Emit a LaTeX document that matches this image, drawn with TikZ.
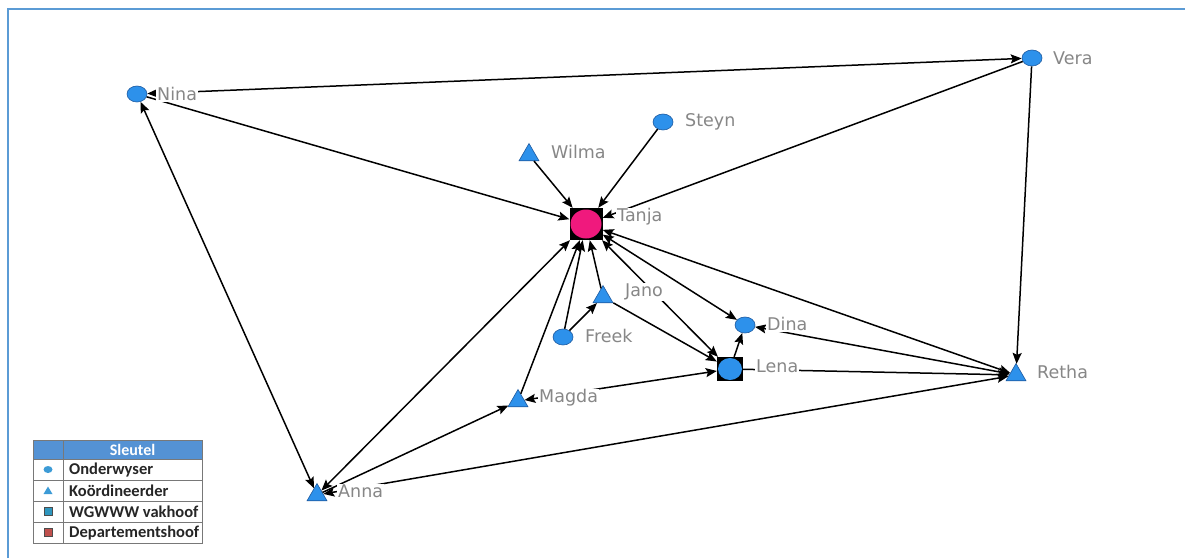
\documentclass[tikz,border=0pt]{standalone}
\usepackage{fontspec}
\setmainfont{DejaVu Sans}
\newfontfamily\legfont{Carlito}
\usetikzlibrary{shapes.geometric,arrows.meta}
\definecolor{nblue}{RGB}{45,145,235}
\definecolor{nborder}{RGB}{30,90,160}
\definecolor{tpink}{RGB}{240,25,125}
\definecolor{lblgrey}{RGB}{135,135,135}
\definecolor{frameblue}{RGB}{91,155,213}
\definecolor{headblue}{RGB}{84,146,212}
\definecolor{legborder}{RGB}{120,120,120}
\definecolor{legblue}{RGB}{60,155,214}
\definecolor{legteal}{RGB}{46,150,190}
\definecolor{legred}{RGB}{192,80,77}
\tikzset{
  circ/.style={ellipse, fill=nblue, draw=nborder, line width=0.6pt, minimum width=20pt, minimum height=16pt, inner sep=0pt},
  tri/.style={regular polygon, regular polygon sides=3, fill=nblue, draw=nborder, line width=0.6pt, minimum size=23pt, inner sep=0pt},
  sqbox/.style={rectangle, fill=black, inner sep=0pt},
  tip/.tip={Stealth[length=11pt,width=9pt,inset=2pt]},
  e/.style={line width=1.5pt, -tip},
  ee/.style={line width=1.5pt, tip-tip},
  lbl/.style={anchor=west, text=lblgrey, fill=white, inner sep=1pt, font=\fontsize{17.5}{20}\selectfont},
  legcell/.style={draw=legborder, line width=0.7pt},
  legtxt/.style={anchor=west, inner sep=0pt, font=\legfont\bfseries\fontsize{16.5}{19}\selectfont, text=black!85},
}
\begin{document}
\begin{tikzpicture}[x=1pt,y=-1pt]
\useasboundingbox (0,0) rectangle (1185,558);
\fill[white] (0,0) rectangle (1185,558);
% frame
\draw[frameblue, line width=2pt] (8,558) -- (8,9) -- (1185,9);

% nodes
\node[circ] (Nina) at (137,94) {};
\node[circ] (Vera) at (1032,58) {};
\node[circ] (Steyn) at (663,122) {};
\node[tri] (Wilma) at (529,155) {};
\node[sqbox, minimum width=33pt, minimum height=32pt] (Tanja) at (586,224) {};
\fill[tpink] (Tanja.center) ellipse [x radius=15.5pt, y radius=14.5pt];
\node[tri] (Jano) at (603,297) {};
\node[circ] (Freek) at (563,337) {};
\node[circ] (Dina) at (745,325) {};
\node[sqbox, minimum width=26pt, minimum height=24pt] (Lena) at (730,369) {};
\fill[nblue] (Lena.center) ellipse [x radius=12pt, y radius=11pt];
\node[tri] (Retha) at (1016,375) {};
\node[tri] (Magda) at (518,401) {};
\node[tri] (Anna) at (317,495) {};

% edges
\draw[ee] (Nina) -- (Vera);
\draw[e] (Nina) -- (Tanja);
\draw[ee] (Nina) -- (Anna);
\draw[ee] (Anna) -- (Tanja);
\draw[e] (Anna) -- (Magda);
\draw[ee] (Anna) -- (Retha);
\draw[e] (Magda) -- (Tanja);
\draw[ee] (Magda) -- (Lena);
\draw[e] (Wilma) -- (Tanja);
\draw[e] (Steyn) -- (Tanja);
\draw[e] (Vera) -- (Tanja);
\draw[e] (Vera) -- (Retha);
\draw[e] (Freek) -- (Tanja);
\draw[e] (Freek) -- (Jano);
\draw[e] (Jano) -- (Tanja);
\draw[e] (Jano) -- (Lena);
\draw[ee] (Tanja) -- (Lena);
\draw[ee] (Tanja) -- (Dina);
\draw[e] (Lena) -- (Dina);
\draw[ee] (Retha) -- (Dina);
\draw[e] (Lena) -- (Retha);
\draw[ee] (Retha) -- (Tanja);

% labels
\node[lbl] (lNina) at (156,94) {Nina};
\node[lbl] (lVera) at (1052,58) {Vera};
\node[lbl] (lSteyn) at (684,122) {Steyn};
\node[lbl] (lWilma) at (550,152) {Wilma};
\node[lbl] (lTanja) at (616,217) {Tanja};
\node[lbl] (lJano) at (624,292) {Jano};
\node[lbl] (lFreek) at (584,336) {Freek};
\node[lbl] (lDina) at (766,324) {Dina};
\node[lbl] (lLena) at (755,366) {Lena};
\node[lbl] (lRetha) at (1036,372) {Retha};
\node[lbl] (lMagda) at (538,398) {Magda};
\node[lbl] (lAnna) at (337,491) {Anna};

% legend
\fill[headblue] (33,440) rectangle (202,459);
\draw[legcell] (33,440) rectangle (202,543);
\draw[legcell] (63,440) -- (63,543);
\draw[legcell] (33,459) -- (202,459);
\draw[legcell] (33,480) -- (202,480);
\draw[legcell] (33,501) -- (202,501);
\draw[legcell] (33,522) -- (202,522);
\node[font=\legfont\bfseries\fontsize{16}{18}\selectfont, text=white, inner sep=0pt] (lhead) at (132.5,449.5) {Sleutel};
\node[legtxt] (t1) at (69,469.5) {Onderwyser};
\node[legtxt] (t2) at (69,490.5) {Koördineerder};
\node[legtxt] (t3) at (69,511.5) {WGWWW vakhoof};
\node[legtxt] (t4) at (69,532.5) {Departementshoof};
\fill[legblue] (48,469.5) ellipse [x radius=4.5pt, y radius=3.5pt];
\fill[legblue] (43.5,494) -- (52.5,494) -- (48,486.5) -- cycle;
\filldraw[fill=legteal, draw=black!70, line width=0.8pt] (44,507.5) rectangle (52,515.5);
\filldraw[fill=legred, draw=black!70, line width=0.8pt] (44,528.5) rectangle (52,536.5);
\end{tikzpicture}
\end{document}
